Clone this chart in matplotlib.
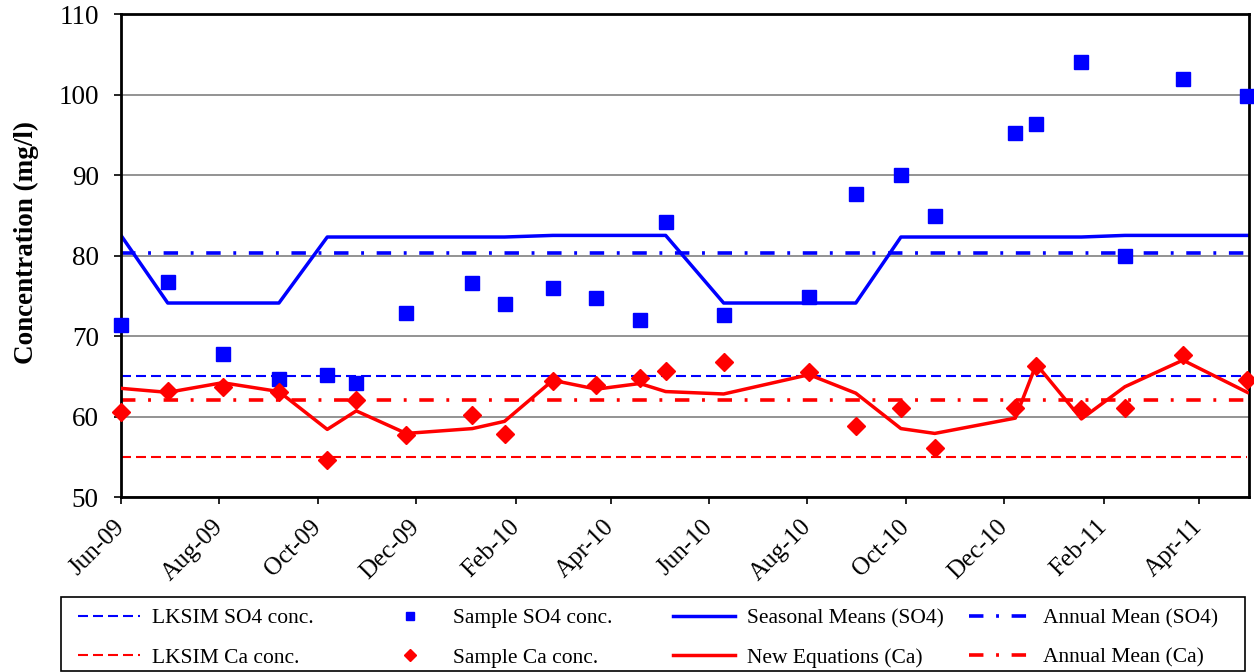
import numpy as np
import pandas as pd
import matplotlib
matplotlib.use("Agg")
import matplotlib.pyplot as plt
import matplotlib.dates as mdates
from matplotlib.patches import Rectangle

# --- Données ---
dates_echantillons = ["2009-06-01", "2009-06-30", "2009-08-03", "2009-09-07", "2009-10-07",
                      "2009-10-25", "2009-11-25", "2010-01-05", "2010-01-25", "2010-02-24",
                      "2010-03-23", "2010-04-19", "2010-05-05", "2010-06-10", "2010-08-02",
                      "2010-08-31", "2010-09-28", "2010-10-19", "2010-12-08", "2010-12-21",
                      "2011-01-18", "2011-02-14", "2011-03-22", "2011-05-01"]

so4_echantillon = [71.4, 76.7, 67.8, 64.7, 65.2, 64.2, 72.8, 76.6, 74.0, 76.0, 74.7, 72.0,
                   84.2, 72.6, 74.8, 87.6, 90.0, 84.9, 95.2, 96.3, 104.0, 79.9, 101.9, 99.8]
ca_echantillon = [60.5, 63.2, 63.7, 63.1, 54.6, 62.0, 57.7, 60.2, 57.8, 64.4, 63.9, 64.8,
                  65.7, 66.8, 65.5, 58.8, 61.1, 56.1, 61.1, 66.3, 60.9, 61.0, 67.6, 64.5]
so4_saisonnier = [82.5, 74.1, 74.1, 74.1, 82.3, 82.3, 82.3, 82.3, 82.3, 82.5, 82.5, 82.5,
                  82.5, 74.1, 74.1, 74.1, 82.3, 82.3, 82.3, 82.3, 82.3, 82.5, 82.5, 82.5]
ca_nouvelles_equations = [63.5, 63.0, 64.2, 63.1, 58.4, 60.7, 57.9, 58.5, 59.4, 64.5, 63.4, 64.1,
                          63.1, 62.8, 65.2, 62.9, 58.5, 57.9, 59.8, 66.5, 59.7, 63.7, 67.0, 63.0]

lksim_so4 = 65.0
lksim_ca = 55.0
moyenne_annuelle_so4 = 80.3
moyenne_annuelle_ca = 62.1

dates = pd.to_datetime(dates_echantillons)
n = len(dates)

plt.rcParams["font.family"] = ["Liberation Serif", "DejaVu Serif"]

fig = plt.figure(figsize=(12.54, 6.72), dpi=100)
ax = fig.add_axes([0.0965, 0.2604, 0.8995, 0.7187])

bleu = "#0000FF"
rouge = "#FF0000"
tirets = (4.8, 2.4)
tiret_point = (4.0, 3.5, 0.8, 3.5)

l1, = ax.plot(dates, [lksim_so4] * n, color=bleu, lw=1.5, dashes=tirets, label="LKSIM SO4 conc.")
l2, = ax.plot(dates, [lksim_ca] * n, color=rouge, lw=1.5, dashes=tirets, label="LKSIM Ca conc.")
l3, = ax.plot(dates, so4_echantillon, ls="none", marker="s", ms=10, color=bleu,
              clip_on=False, zorder=4, label="Sample SO4 conc.")
l4, = ax.plot(dates, ca_echantillon, ls="none", marker="D", ms=9.5, color=rouge,
              clip_on=False, zorder=4, label="Sample Ca conc.")
l5, = ax.plot(dates, so4_saisonnier, color=bleu, lw=2.5, label="Seasonal Means (SO4)")
l6, = ax.plot(dates, ca_nouvelles_equations, color=rouge, lw=2.5, zorder=5, label="New Equations (Ca)")
l7, = ax.plot(dates, [moyenne_annuelle_so4] * n, color=bleu, lw=2.6, dashes=tiret_point,
              dash_capstyle="butt", label="Annual Mean (SO4)")
l8, = ax.plot(dates, [moyenne_annuelle_ca] * n, color=rouge, lw=2.6, dashes=tiret_point,
              dash_capstyle="butt", label="Annual Mean (Ca)")

# Axes
ax.set_ylim(50, 110)
ax.set_yticks(np.arange(50, 111, 10))
ax.set_xlim(pd.Timestamp("2009-06-01"), pd.Timestamp("2011-05-02"))
ax.xaxis.set_major_locator(mdates.MonthLocator(bymonth=[2, 4, 6, 8, 10, 12]))
ax.xaxis.set_major_formatter(mdates.DateFormatter("%b-%y"))
ax.grid(axis="y", color="#808080", lw=1.2)
ax.set_axisbelow(True)
for cote in ax.spines.values():
    cote.set_linewidth(2)
    cote.set_color("black")
ax.tick_params(axis="both", direction="out", length=5, width=1.2)
ax.tick_params(axis="y", pad=11, labelsize=19.5)
ax.tick_params(axis="x", pad=14, labelsize=18)
for etiquette in ax.get_xticklabels():
    etiquette.set_rotation(45)
    etiquette.set_ha("right")
    etiquette.set_va("center")
    etiquette.set_rotation_mode("anchor")

ax.set_ylabel("Concentration (mg/l)", fontsize=19.5, fontweight="bold")
ax.yaxis.set_label_coords(-0.073, 0.526)

# Légende en bas : cadre commun + 4 colonnes de largeur égale (comme Excel)
fig.add_artist(Rectangle((0.0486, 0.0015), 0.944, 0.110, transform=fig.transFigure,
                         fill=False, edgecolor="black", linewidth=1.2))
colonnes = [[l1, l2], [l3, l4], [l5, l6], [l7, l8]]
positions_x = [0.0622, 0.3022, 0.5367, 0.7727]
for poignees, x0 in zip(colonnes, positions_x):
    leg = fig.legend(handles=poignees, loc="upper left", bbox_to_anchor=(x0, 0.0952),
                     fontsize=15.5, frameon=False, borderpad=0, borderaxespad=0,
                     labelspacing=0.9, handlelength=2.9, handletextpad=0.55,
                     markerscale=0.6)

fig.savefig("out.png", dpi=100)
